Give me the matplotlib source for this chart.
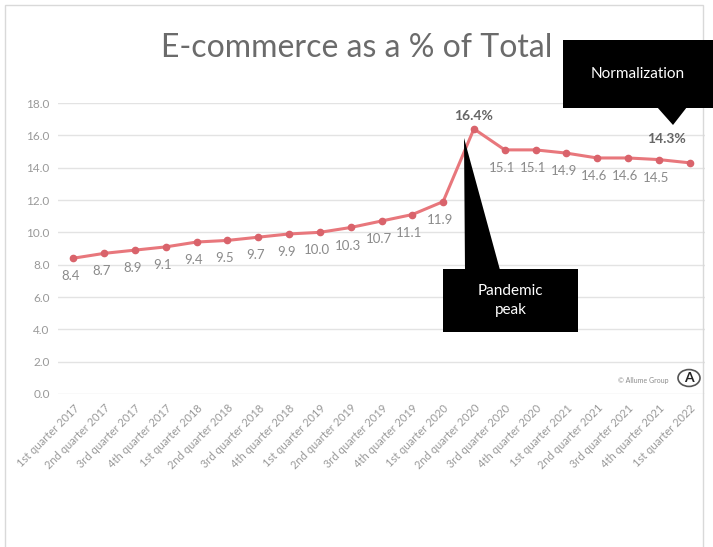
import matplotlib.pyplot as plt
from matplotlib.patches import Polygon, Rectangle, Circle

W, H = 713, 547

quarters = ['1st quarter 2017', '2nd quarter 2017', '3rd quarter 2017', '4th quarter 2017',
            '1st quarter 2018', '2nd quarter 2018', '3rd quarter 2018', '4th quarter 2018',
            '1st quarter 2019', '2nd quarter 2019', '3rd quarter 2019', '4th quarter 2019',
            '1st quarter 2020', '2nd quarter 2020', '3rd quarter 2020', '4th quarter 2020',
            '1st quarter 2021', '2nd quarter 2021', '3rd quarter 2021', '4th quarter 2021',
            '1st quarter 2022']
share = [8.4, 8.7, 8.9, 9.1, 9.4, 9.5, 9.7, 9.9, 10.0, 10.3, 10.7,
         11.1, 11.9, 16.4, 15.1, 15.1, 14.9, 14.6, 14.6, 14.5, 14.3]
yticks = [0, 2, 4, 6, 8, 10, 12, 14, 16, 18]

LINE = '#e8777c'
GRAY = '#8a8a8a'
plt.rcParams['font.family'] = ['Lato', 'DejaVu Sans']


def px(x, y):
    # pixel position (from top-left) -> figure fraction
    return x / W, 1 - y / H


fig = plt.figure(figsize=(W / 100, H / 100), dpi=100)
ax = fig.add_axes([58 / W, 1 - 394 / H, (705 - 58) / W, (394 - 103) / H])

xs = list(range(len(share)))
ax.plot(xs, share, color=LINE, lw=2.2, marker='o', ms=4.5,
        mfc='#d9636b', mec='#d9636b', zorder=3)

ax.set_xlim(-0.5, len(share) - 0.5)
ax.set_ylim(0, 18)
ax.set_yticks(yticks)
ax.set_yticklabels([f'{v:.1f}' for v in yticks], color='#999999', fontsize=8.5)
ax.set_xticks(xs)
ax.set_xticklabels(quarters, rotation=45, ha='right', rotation_mode='anchor',
                   color='#999999', fontsize=8)
ax.tick_params(length=0, pad=6)
ax.grid(axis='y', color='#e3e3e3', lw=1)
ax.set_axisbelow(True)
for s in ax.spines.values():
    s.set_visible(False)

# data labels
for i, v in enumerate(share):
    if i == 13:
        ax.annotate(f'{v}%', (i, v), xytext=(0, 9), textcoords='offset points',
                    ha='center', va='center', fontsize=10, color='#666666',
                    fontweight='bold')
    elif i == len(share) - 1:
        ax.annotate(f'{v}%', (i, v), xytext=(-17, 17), textcoords='offset points',
                    ha='center', va='center', fontsize=10, color='#666666',
                    fontweight='bold')
    else:
        ax.annotate(f'{v:.1f}', (i, v), xytext=(-2, -13), textcoords='offset points',
                    ha='center', va='center', fontsize=9.5, color=GRAY)

fig.text(*px(357, 48), 'E-commerce as a % of Total', ha='center', va='center',
         fontsize=23, color='#6b6b6b', fontweight='normal')

# chart frame
fig.patches.append(Rectangle(px(5, 560), (703 - 5) / W, (560 - 5) / H,
                             transform=fig.transFigure, fill=False,
                             ec='#d9d9d9', lw=1))

# callouts
def callout(box, tri, text):
    x0, y0, x1, y1 = box
    fig.patches.append(Rectangle(px(x0, y1), (x1 - x0) / W, (y1 - y0) / H,
                                 transform=fig.transFigure, fc='black', ec='none',
                                 zorder=5))
    fig.patches.append(Polygon([px(*p) for p in tri], closed=True,
                               transform=fig.transFigure, fc='black', ec='none',
                               zorder=5))
    fig.text(*px((x0 + x1) / 2, (y0 + y1) / 2), text, ha='center', va='center',
             color='white', fontsize=11, zorder=6, linespacing=1.4)


callout((563, 40, 713, 108), [(657, 107), (687, 107), (673, 125)], 'Normalization')
callout((443, 269, 578, 332), [(464, 138), (465, 270), (500, 270)], 'Pandemic\npeak')

# watermark
fig.text(*px(669, 381), '© Allume Group', ha='right', va='center', fontsize=5,
         color='#8c8c8c')
fig.patches.append(Circle(px(689, 378), 11 / W, transform=fig.transFigure,
                          fill=False, ec='#555555', lw=1.2))
fig.text(*px(689, 378), 'A', ha='center', va='center', fontsize=10,
         color='#222222', fontweight='bold')

fig.savefig('out.png', dpi=100)
